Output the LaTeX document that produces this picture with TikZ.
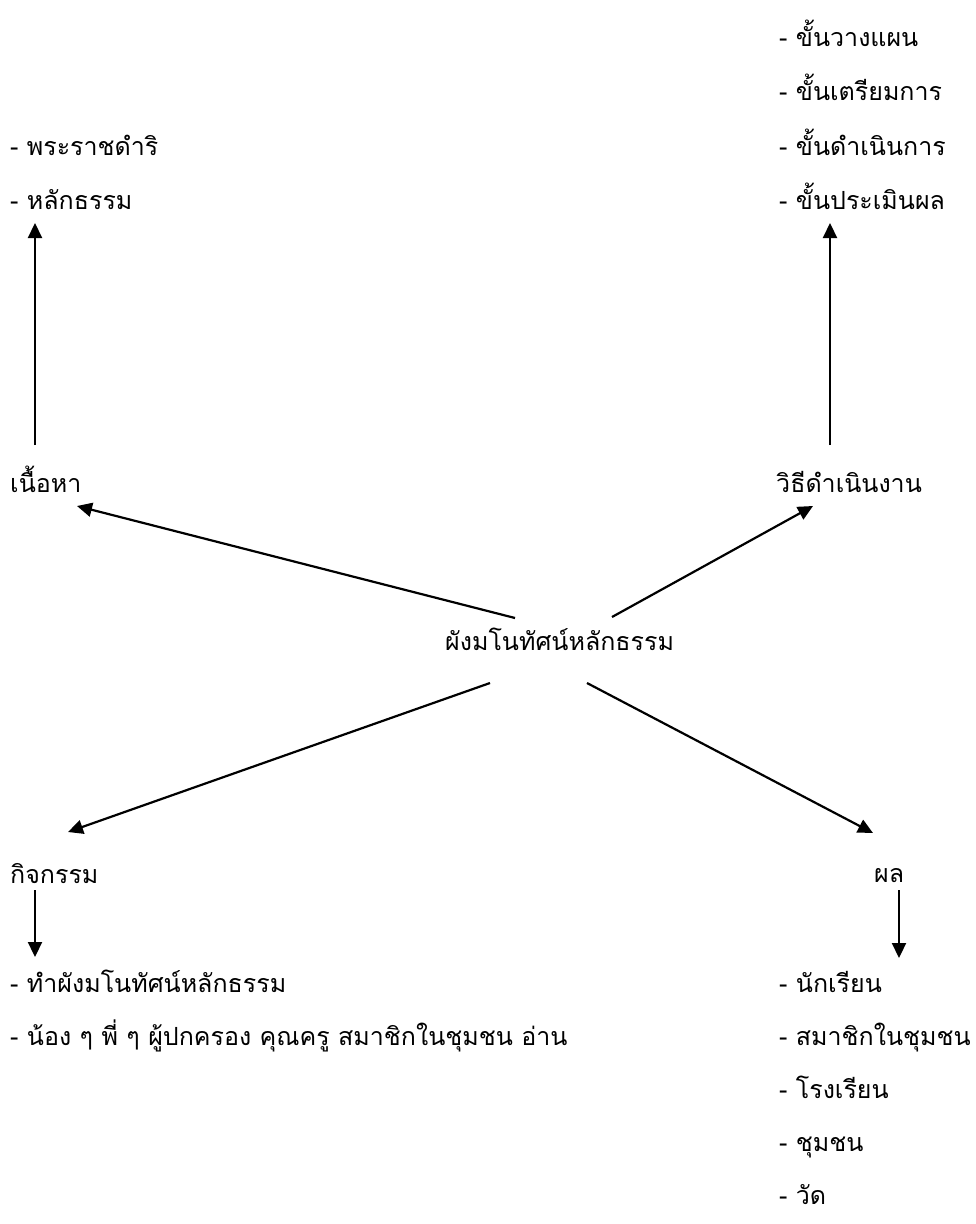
\documentclass[tikz,border=0pt]{standalone}
\usepackage{fontspec}
\newfontfamily\thaifont[Script=Thai]{Loma}
\usetikzlibrary{arrows.meta,calc}

\begin{document}
\begin{tikzpicture}[x=1pt,y=-1pt,font=\thaifont\fontsize{25}{30}\selectfont]
\tikzstyle{texte}=[anchor=base west,inner sep=0pt]
\tikzstyle{suite}=[-{Triangle[length=15pt,width=14pt]},line width=2.2pt]
\useasboundingbox (0,0) rectangle (976,1224);

\node[texte] (centre) at (445,650) {ผังมโนทัศน์หลักธรรม};

\node[texte] (contenu) at (10,492) {เนื้อหา};
\node[texte] (dhamma1) at (10,155) {- พระราชดำริ};
\node[texte] (dhamma2) at (10,209) {- หลักธรรม};

\node[texte] (methode) at (776,492) {วิธีดำเนินงาน};
\node[texte] (etape1) at (779,46) {- ขั้นวางแผน};
\node[texte] (etape2) at (779,100) {- ขั้นเตรียมการ};
\node[texte] (etape3) at (779,155) {- ขั้นดำเนินการ};
\node[texte] (etape4) at (779,209) {- ขั้นประเมินผล};

\node[texte] (activite) at (10,883) {กิจกรรม};
\node[texte] (act1) at (10,992) {- ทำผังมโนทัศน์หลักธรรม};
\node[texte] (act2) at (10,1045) {- น้อง ๆ พี่ ๆ ผู้ปกครอง คุณครู สมาชิกในชุมชน อ่าน};

\node[texte] (resultat) at (874,882) {ผล};
\node[texte] (res1) at (779,992) {- นักเรียน};
\node[texte] (res2) at (779,1045) {- สมาชิกในชุมชน};
\node[texte] (res3) at (779,1098) {- โรงเรียน};
\node[texte] (res4) at (779,1151) {- ชุมชน};
\node[texte] (res5) at (779,1204) {- วัด};

\draw[suite] ($(centre.base west)+(70,-32)$) -- ($(contenu.base west)+(67,14)$);
\draw[suite] ($(centre.base west)+(167,-33)$) -- ($(methode.base west)+(37,14)$);
\draw[suite] ($(centre.base west)+(45,33)$) -- ($(activite.base west)+(58,-51)$);
\draw[suite] ($(centre.base west)+(142,33)$) -- ($(resultat.base west)+(-1,-49)$);

\draw[suite] ($(contenu.base west)+(25,-47)$) -- ($(dhamma2.base west)+(25,14)$);
\draw[suite] ($(methode.base west)+(54,-47)$) -- ($(etape4.base west)+(51,14)$);
\draw[suite] ($(activite.base west)+(25,7)$) -- ($(act1.base west)+(25,-35)$);
\draw[suite] ($(resultat.base west)+(25,8)$) -- ($(res1.base west)+(120,-34)$);

\end{tikzpicture}
\end{document}
